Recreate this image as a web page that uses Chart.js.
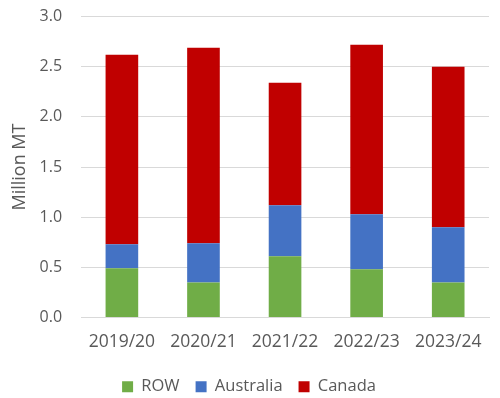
<!DOCTYPE html>
<html lang="en">
<head>
<meta charset="UTF-8">
<title>Million MT by source</title>
<script src="https://cdn.jsdelivr.net/npm/chart.js"></script>
<style>
    html, body { margin: 0; padding: 0; background: #fff; }
    .wrap { width: 500px; height: 398px; overflow: hidden; }
    /* canvas a bit taller, pulled up, so the plot top sits where the reference has it */
    #chart { display: block; margin-top: -12px; }
</style>
</head>
<body>
<div class="wrap"><canvas id="chart" width="500" height="410"></canvas></div>
<script>
// values (million MT)
const years = ['2019/20', '2020/21', '2021/22', '2022/23', '2023/24'];
const row = [0.49, 0.35, 0.61, 0.48, 0.35];
const australia = [0.24, 0.39, 0.51, 0.55, 0.55];
const canada = [1.89, 1.95, 1.22, 1.69, 1.60];

const font = "'Open Sans', 'Liberation Sans', sans-serif";
const grey = '#595959';

new Chart(document.getElementById('chart'), {
    type: 'bar',
    data: {
        labels: years,
        datasets: [
            { label: 'ROW', data: row, backgroundColor: '#70AD47' },
            { label: 'Australia', data: australia, backgroundColor: '#4472C4' },
            { label: 'Canada', data: canada, backgroundColor: '#C00000' }
        ]
    },
    options: {
        responsive: false,
        animation: false,
        layout: { padding: { top: 0, right: 11, left: 9, bottom: -7 } },
        datasets: { bar: { barPercentage: 0.4, categoryPercentage: 1 } },
        plugins: {
            tooltip: { enabled: false },
            legend: {
                position: 'bottom',
                labels: {
                    color: grey,
                    font: { family: font, size: 16.5 },
                    boxWidth: 11,
                    boxHeight: 11,
                    padding: 16
                }
            }
        },
        scales: {
            x: {
                stacked: true,
                grid: { display: false },
                border: { display: true, color: '#d9d9d9' },
                ticks: { color: grey, font: { family: font, size: 17.5 }, padding: 6 },
                // a little extra room between the year labels and the legend
                afterFit: scale => { scale.height += 4; }
            },
            y: {
                stacked: true,
                min: 0,
                max: 3,
                ticks: {
                    stepSize: 0.5,
                    color: grey,
                    font: { family: font, size: 16 },
                    padding: 19,
                    callback: v => v.toFixed(1)
                },
                grid: { color: '#d9d9d9', drawTicks: false },
                border: { display: false },
                title: {
                    display: true,
                    text: 'Million MT',
                    color: grey,
                    font: { family: font, size: 18 },
                    padding: { top: 0, bottom: -10 }
                }
            }
        }
    }
});
</script>
</body>
</html>
